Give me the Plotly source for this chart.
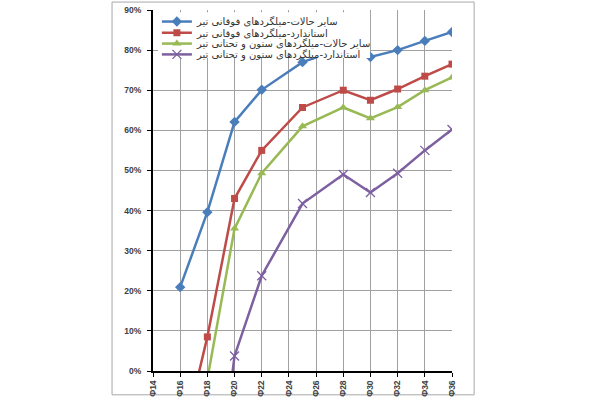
import plotly.graph_objects as go

# rebar diameters (mm) that have values
sizes = [16, 18, 20, 22, 25, 28, 30, 32, 34, 36]

# percentages (negatives run below the 0% axis and get clipped)
top_other = [20.9, 39.6, 62.1, 70.1, 77.0, 80.5, 78.3, 80.0, 82.3, 84.5]
top_standard = [-20, 8.5, 43.0, 55.0, 65.7, 70.0, 67.5, 70.3, 73.5, 76.5]
column_other = [None, -2, 35.5, 49.3, 61.0, 65.7, 63.0, 65.8, 70.0, 73.2]
column_standard = [None, -50, 3.75, 23.75, 41.75, 49.0, 44.5, 49.3, 55.0, 60.2]

tick_sizes = [14, 16, 18, 20, 22, 24, 26, 28, 30, 32, 34, 36]
tick_labels = ["Φ14", "Φ16", "Φ18", "Φ20", "Φ22", "Φ24",
               "Φ26", "Φ28", "Φ30", "Φ32", "Φ34", "Φ36"]
y_ticks = [0, 10, 20, 30, 40, 50, 60, 70, 80, 90]
y_labels = ["0%", "10%", "20%", "30%", "40%", "50%", "60%", "70%", "80%", "90%"]

names = [
    "سایر حالات-میلگردهای فوقانی تیر",
    "استاندارد-میلگردهای فوقانی تیر",
    "سایر حالات-میلگردهای ستون و تحتانی تیر",
    "استاندارد-میلگردهای ستون و تحتانی تیر",
]

series = [top_other, top_standard, column_other, column_standard]
colors = ["#4A7EBB", "#BE4B48", "#98B954", "#7D60A0"]
markers = [
    dict(symbol="diamond", size=8),
    dict(symbol="square", size=7),
    dict(symbol="triangle-up", size=8),
    dict(symbol="x-thin", size=9, line=dict(width=1.3)),
]
legend_ids = ["legend", "legend2", "legend3", "legend4"]

fig = go.Figure()
for vals, name, col, mk, lg in zip(series, names, colors, markers, legend_ids):
    mk = dict(mk, color=col)
    if "line" in mk:
        mk["line"] = dict(mk["line"], color=col)
    fig.add_trace(go.Scatter(
        x=sizes, y=vals, name=name, mode="lines+markers",
        line=dict(color=col, width=2.5), marker=mk, legend=lg,
        connectgaps=False,
    ))

tick_font = dict(family="Liberation Sans", size=8.5, color="#404040", weight="bold")
legend_font = dict(family="DejaVu Sans", size=10, color="#333333")

# one single-row legend per series so the rows can sit closer than plotly's default
row_y = [0.968, 0.937, 0.907, 0.877]
legends = {}
for lg, yy in zip(legend_ids, row_y):
    legends[lg] = dict(
        x=0.013, y=yy, xanchor="left", yanchor="middle",
        bgcolor="rgba(0,0,0,0)", borderwidth=0, font=legend_font,
        itemwidth=30,
    )

fig.update_layout(
    width=600, height=400,
    margin=dict(l=153, r=148, t=10, b=29, autoexpand=False),
    paper_bgcolor="white", plot_bgcolor="white",
    showlegend=True,
    **legends,
    shapes=[
        # outer chart frame
        dict(type="rect", xref="paper", yref="paper",
             x0=-0.137, x1=1.074, y0=-0.066, y1=1.022,
             line=dict(color="#A8A8A8", width=1), layer="below"),
        # white legend box sitting over the plot
        dict(type="rect", xref="paper", yref="paper",
             x0=0.017, x1=0.726, y0=0.867, y1=0.994,
             fillcolor="white", line=dict(width=0), layer="above"),
    ],
)

fig.update_xaxes(
    range=[14, 36], tickvals=tick_sizes, ticktext=tick_labels,
    tickangle=-90, tickfont=tick_font, ticklabeloverflow="allow",
    showgrid=True, gridcolor="#A0A0A0", gridwidth=1,
    showline=True, linecolor="black", linewidth=2,
    ticks="outside", ticklen=4, tickcolor="black", zeroline=False,
)
fig.update_yaxes(
    range=[0, 90], tickvals=y_ticks, ticktext=y_labels, tickfont=tick_font,
    ticklabeloverflow="allow",
    showgrid=True, gridcolor="#A0A0A0", gridwidth=1,
    showline=True, linecolor="black", linewidth=2,
    ticks="outside", ticklen=4, tickcolor="black", zeroline=False,
    ticklabelstandoff=4,
)

# drop the browser's default 8px body margin so the 600x400 figure fills the window
fig.write_html("out.html", config={"displayModeBar": False},
               post_script="document.body.style.margin = '0';")
